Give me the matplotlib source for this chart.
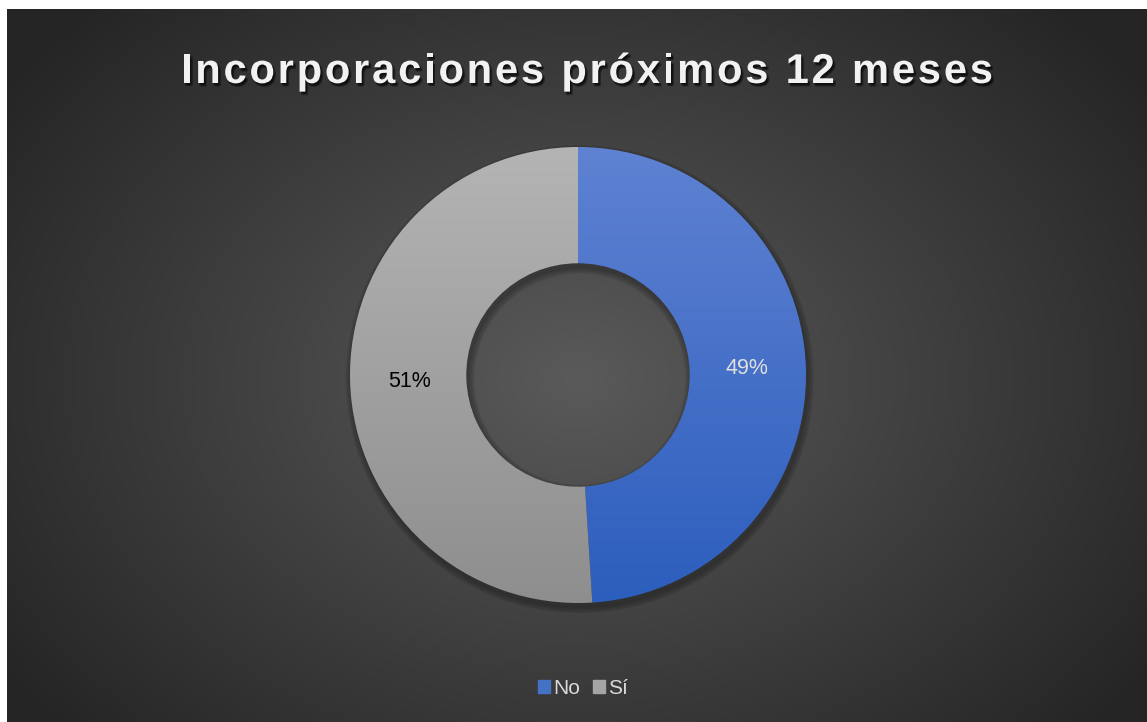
import numpy as np
import matplotlib.pyplot as plt
import matplotlib.patheffects as pe
from matplotlib.colors import to_rgb
from matplotlib.patches import Rectangle, Wedge

# data
labels = ['No', 'Sí']
values = [49, 51]
title = 'Incorporaciones próximos 12 meses'

# slice gradients (top colour, bottom colour)
grad_colors = [('#5F82D2', '#2C5EBD'), ('#B4B4B4', '#8E8E8E')]
legend_colors = ['#4472C4', '#A5A5A5']
label_colors = ['#E0E0E0', '#000000']

plt.rcParams['font.family'] = ['Liberation Sans', 'DejaVu Sans']

W, H = 1147, 722
fig = plt.figure(figsize=(W / 100, H / 100), dpi=100, facecolor='white')

# dark radial gradient background
bg = fig.add_axes([7 / W, 0, 1 - 7 / W, 1 - 9 / H])
bg.set_axis_off()
yy, xx = np.mgrid[0:713, 0:1140]
d = np.sqrt(((xx - 570) / 700.0) ** 2 + ((yy - 370) / 520.0) ** 2)
d = np.clip(d, 0, 1)
c0, c1 = 0x5A / 255, 0x25 / 255
g = c0 + (c1 - c0) * d
bg.imshow(np.dstack([g, g, g]), aspect='auto', extent=[0, 1, 0, 1], origin='upper')
bg.set_xlim(0, 1)
bg.set_ylim(0, 1)

# donut
cx, cy, R = 578, 375, 228
ax = fig.add_axes([(cx - R) / W, (H - cy - R) / H, 2 * R / W, 2 * R / H])
ax.set_axis_off()
wedges, _ = ax.pie(values, radius=1, startangle=90, counterclock=False,
                   wedgeprops=dict(width=0.51, edgecolor='none', linewidth=0))

# soft shadow under the ring
for k in range(5):
    sh = Wedge((0.008, -0.018), 1.0 + 0.006 * k, 0, 360, width=0.51 + 0.012 * k,
               color='black', alpha=0.055, zorder=0, clip_on=False)
    ax.add_patch(sh)

for w, (top, bot) in zip(wedges, grad_colors):
    w.set_facecolor('none')
    t = np.array(to_rgb(top))
    b = np.array(to_rgb(bot))
    f = np.linspace(0, 1, 256)[:, None]
    grad = t + (b - t) * f
    img = ax.imshow(grad[:, None, :].repeat(2, axis=1), extent=[-1, 1, -1, 1],
                    origin='upper', aspect='auto', zorder=2)
    img.set_clip_path(w)

ax.set_xlim(-1, 1)
ax.set_ylim(-1, 1)

# percentage labels
ax.text(0.74, 0.03, '49%', color=label_colors[0], fontsize=15.5, ha='center', va='center', zorder=5)
ax.text(-0.74, -0.03, '51%', color=label_colors[1], fontsize=15.5, ha='center', va='center', zorder=5)

# title with letter spacing
fig.canvas.draw()
r = fig.canvas.get_renderer()
tfs = 30
spacing = 2.8
widths = []
for ch in title:
    tt = fig.text(0, 0, ch if ch != ' ' else 'a', fontsize=tfs, fontweight='bold')
    wpx = tt.get_window_extent(r).width
    if ch == ' ':
        tt2 = fig.text(0, 0, 'a a', fontsize=tfs, fontweight='bold')
        wpx = tt2.get_window_extent(r).width - 2 * wpx
        tt2.remove()
    widths.append(wpx)
    tt.remove()
total = sum(widths) + spacing * (len(title) - 1)
x = 587 - total / 2
shadow = [pe.SimplePatchShadow(offset=o, shadow_rgbFace='black', alpha=0.18)
          for o in [(0.5, -1), (1, -1.5), (1.5, -2), (2, -2.5), (1, -2.5), (2, -1.5)]]
for ch, wpx in zip(title, widths):
    if ch != ' ':
        fig.text(x / W, 1 - 83 / H, ch, fontsize=tfs, fontweight='bold', color='#F2F2F2',
                 va='baseline', ha='left', path_effects=shadow + [pe.Normal()])
    x += wpx + spacing

# legend
leg = fig.legend([Rectangle((0, 0), 1, 1, color=c) for c in legend_colors], labels,
                 loc='center', bbox_to_anchor=(583 / W, 1 - 688 / H), ncol=2, frameon=False,
                 fontsize=15, labelcolor='#D9D9D9', handlelength=0.6, handleheight=0.6,
                 handletextpad=0.15, columnspacing=0.6)

fig.savefig('out.png', dpi=100, facecolor='white')
